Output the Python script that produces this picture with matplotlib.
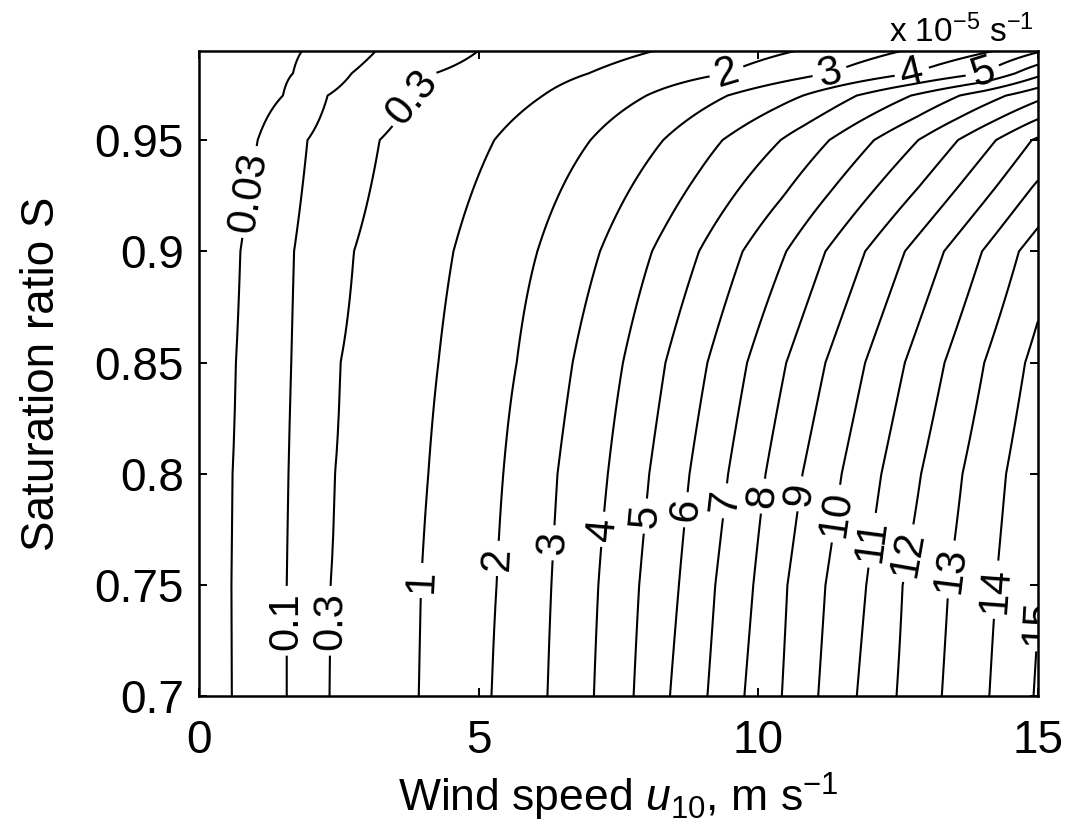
import numpy as np
import matplotlib
matplotlib.use("Agg")
import matplotlib.pyplot as plt

plt.rcParams["font.family"] = ["Liberation Sans", "DejaVu Sans"]
plt.rcParams["mathtext.fontset"] = "custom"
plt.rcParams["mathtext.rm"] = "Liberation Sans"
plt.rcParams["mathtext.it"] = "Liberation Sans:italic"

LEVELS = [0.03, 0.1, 0.3, 1, 2, 3, 4, 5, 6, 7, 8, 9, 10, 11, 12, 13, 14, 15]

S_ROWS = [0.70, 0.75, 0.80, 0.85, 0.90, 0.95, 0.97, 0.98, 0.99]

# wind speed where each level (LEVELS order) crosses that row
U_070 = [0.585, 1.57, 2.33, 3.93, 5.23, 6.23, 7.06, 7.77, 8.42, 9.09, 9.75, 10.42, 11.07, 11.76, 12.47, 13.28, 14.13, 14.92]
U_075 = [0.58, 1.57, 2.35, 3.97, 5.32, 6.30, 7.14, 7.87, 8.58, 9.23, 9.91, 10.52, 11.20, 11.93, 12.58, 13.40, 14.25]
U_080 = [0.60, 1.60, 2.43, 4.10, 5.44, 6.41, 7.31, 8.05, 8.77, 9.46, 10.13, 10.79, 11.49, 12.20, 12.91, 13.65, 14.43]
U_085 = [0.66, 1.65, 2.53, 4.28, 5.68, 6.68, 7.58, 8.34, 9.09, 9.80, 10.50, 11.20, 11.91, 12.62, 13.33, 14.04, 14.77]
U_090 = [0.74, 1.70, 2.77, 4.55, 6.05, 7.17, 8.10, 8.94, 9.72, 10.50, 11.20, 11.91, 12.62, 13.32, 14.00, 14.66]
U_095 = [1.05, 1.94, 3.23, 5.28, 7.00, 8.30, 9.36, 10.40, 11.27, 12.07, 12.86, 13.57, 14.25, 14.89]
U_097 = [1.50, 2.30, 3.83, 6.15, 8.00, 9.45, 10.80, 11.76, 12.73, 13.60, 14.43]
U_098 = [1.68, 2.73, 4.22, 6.97, 9.44, 11.28, 12.75, 14.02]
U_099 = [1.84, 3.16, 4.99, 8.12, 10.65, 12.55, 14.20]
U_ROWS = [U_070, U_075, U_080, U_085, U_090, U_095, U_097, U_098, U_099]

# field value at the right edge (u = 15) of each row
EDGE_VALUES = [15.1, 14.95, 14.73, 14.3, 13.5, 11.15, 8.7, 6.7, 4.9]

XTICKS = [0, 5, 10, 15]
YTICKS = [0.7, 0.75, 0.8, 0.85, 0.9, 0.95]
YTICK_LABELS = ["0.7", "0.75", "0.8", "0.85", "0.9", "0.95"]

# where the inline labels sit (u, S)
LABEL_SPOTS = [(0.82, 0.927), (1.61, 0.734), (2.40, 0.734), (3.83, 0.969),
               (4.04, 0.752), (5.35, 0.762), (6.37, 0.769), (7.26, 0.775),
               (8.00, 0.781), (8.66, 0.784), (9.37, 0.788), (10.08, 0.790),
               (10.75, 0.791), (11.43, 0.782), (12.09, 0.770), (12.77, 0.764),
               (13.46, 0.757), (14.23, 0.748), (14.92, 0.740),
               (9.44, 0.980), (11.28, 0.980), (12.75, 0.980), (14.02, 0.980)]

# work in "level number" so the levels are evenly spaced between crossings
level_idx = np.arange(len(LEVELS), dtype=float)
ext_idx = np.r_[level_idx, level_idx[-1] + 1]
ext_vals = LEVELS + [16]

u_grid = np.linspace(0, 15, 751)
z_rows = []
for row, edge in zip(U_ROWS, EDGE_VALUES):
    xp = [0.0] + row + [15.0]
    fp = [-1.0] + list(level_idx[:len(row)]) + [np.interp(edge, ext_vals, ext_idx)]
    z_rows.append(np.interp(u_grid, xp, fp))
Z = np.array(z_rows)

fig = plt.figure(figsize=(10.67, 8.38), dpi=100)
ax = fig.add_axes([0.1865, 0.1689, 0.7863, 0.7702])

cs = ax.contour(u_grid, S_ROWS, Z, levels=level_idx, colors="k", linewidths=1.5)
ax.clabel(cs, manual=LABEL_SPOTS, inline=True, inline_spacing=6,
          fontsize=30, fmt=lambda v: "%g" % LEVELS[int(round(v))])

ax.set_xlim(0, 15)
ax.set_ylim(0.7, 0.99)
ax.set_xticks(XTICKS)
ax.set_yticks(YTICKS)
ax.set_yticklabels(YTICK_LABELS)
ax.tick_params(direction="in", top=True, right=True, length=6, width=1.4,
               labelsize=33)
ax.tick_params(axis="x", pad=16)
ax.tick_params(axis="y", pad=11)
for spine in ax.spines.values():
    spine.set_linewidth(1.8)

ax.set_xlabel(r"Wind speed $\mathit{u}_{10}$, m s$^{-1}$", fontsize=32, labelpad=6)
ax.set_ylabel("Saturation ratio S", fontsize=33, labelpad=22)
fig.text(1034 / 1067, 1 - 42 / 838, r"x 10$^{-5}$ s$^{-1}$", fontsize=24,
         ha="right", va="baseline")

fig.savefig("out.png", dpi=100)
